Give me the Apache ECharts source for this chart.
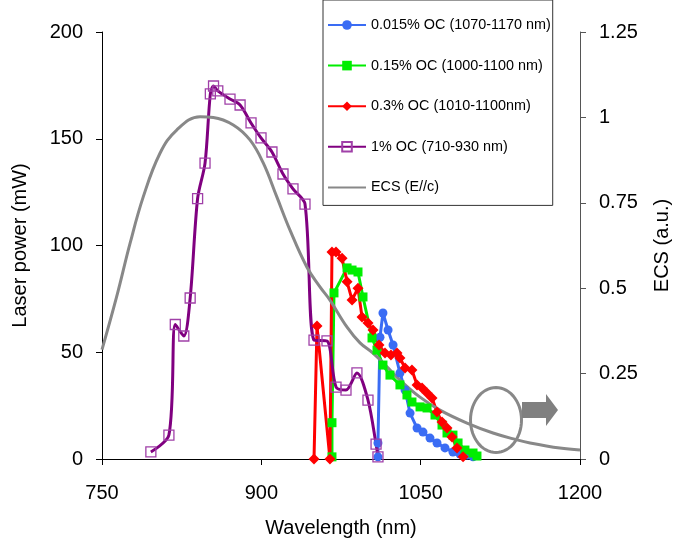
<!DOCTYPE html>
<html>
<head>
<meta charset="utf-8">
<script src="https://cdn.jsdelivr.net/npm/echarts@6/dist/echarts.min.js"></script>
<style>
  html, body { margin: 0; padding: 0; background: #fff; }
  #chart { width: 685px; height: 549px; }
</style>
</head>
<body>
<div id="chart"></div>
<script>
// wavelength (nm) / laser power (mW)
var oc0015_x = [1009.8, 1009.8, 1011.7, 1014.5, 1019.3, 1024, 1030.5, 1035.3, 1040, 1046.6, 1052.2, 1058.8, 1065.4, 1072.9, 1080.4, 1087, 1093.6, 1099.3];
var oc0015_y = [1, 7.5, 57, 68.4, 60.4, 53.4, 40.3, 32.3, 21.5, 14.5, 12.6, 9.8, 7.5, 5.2, 3.3, 2.3, 1.9, 1];

var oc015_x = [966.5, 966.5, 968.4, 980.7, 985.4, 991, 995.7, 1004.2, 1008.9, 1014.5, 1021.1, 1030.5, 1037.1, 1041.8, 1049.4, 1056, 1063.5, 1070.1, 1074.8, 1080.4, 1085.2, 1091.7, 1099.3, 1103];
var oc015_y = [1, 17, 77.8, 89.5, 88.5, 87.6, 75.9, 56.7, 51, 44, 39.3, 34.7, 30, 26.7, 24.4, 23.9, 20.6, 15.9, 12.2, 11.2, 7.5, 4.2, 2.8, 1.4];

var oc03_x = [949.6, 952.4, 964.6, 966.5, 970.3, 976, 980.7, 985.4, 991, 994.8, 1000.4, 1005.1, 1010.8, 1016.4, 1022, 1027.7, 1030.5, 1035.3, 1041.8, 1046.6, 1051.3, 1056, 1060.7, 1065.4, 1070.1, 1074.8, 1079.5, 1084.2, 1089.9];
var oc03_y = [0, 62.3, 0, 97, 97, 94, 83, 74.5, 80, 66.5, 63.7, 60.4, 53.4, 49.6, 48.7, 49.6, 47.3, 42.6, 41.7, 34.7, 33.3, 30.9, 28.6, 22, 17.3, 14.5, 10.3, 5.2, 1];

var oc1_x = [796, 813, 819, 827, 833, 840, 847, 852, 855, 859, 870.5, 880, 890.3, 899.7, 910, 920.4, 929.8, 941.1, 949.6, 961.8, 970.3, 979.7, 990, 1000.4, 1008, 1009.8];
var oc1_y = [3.3, 11.2, 63, 57.6, 75.4, 122, 138.6, 171, 174.7, 172.4, 168.6, 165.8, 157.4, 150.4, 143.8, 133.5, 126.5, 119.4, 55.7, 55.3, 33.7, 32.3, 40.3, 27.6, 7, 1];

// ECS (E//c), right axis
var ecs_x = [750, 763.8, 776.4, 788.9, 804.6, 820.3, 842.3, 854.8, 873.6, 889.3, 901.9, 914.5, 927, 942.7, 955.2, 964.6, 980.7, 992.9, 1005.1, 1018.3, 1030.5, 1049.4, 1068.2, 1093.6, 1118.1, 1140.7, 1153, 1181, 1200];
var ecs_y = [0.32, 0.475, 0.631, 0.768, 0.895, 0.963, 1.002, 1.0, 0.978, 0.934, 0.866, 0.768, 0.67, 0.563, 0.504, 0.465, 0.386, 0.34, 0.31, 0.27, 0.231, 0.181, 0.143, 0.105, 0.076, 0.056, 0.047, 0.032, 0.026];

var seriesNames = ['0.015% OC (1070-1170 nm)', '0.15% OC (1000-1100 nm)', '0.3% OC (1010-1100nm)', '1% OC (710-930 nm)', 'ECS (E//c)'];

function pairs(xs, ys) {
  var out = [];
  for (var i = 0; i < xs.length; i++) {
    out.push([xs[i], ys[i]]);
  }
  return out;
}

// ellipse outline for the annotation
var ellipsePts = [];
for (var k = 0; k <= 60; k++) {
  var a = k / 60 * Math.PI * 2;
  ellipsePts.push([496 + 25.5 * Math.cos(a), 420 + 32.5 * Math.sin(a)]);
}

var font = '"Liberation Sans", Arial, sans-serif';
var plain = function (v) { return String(v); };

var legendData = seriesNames.map(function (n, i) {
  if (i == 4) {
    return { name: n, itemStyle: { opacity: 0 } };
  }
  return { name: n };
});

var option = {
  animation: false,
  backgroundColor: '#fff',
  textStyle: { fontFamily: font, color: '#000' },
  grid: { left: 102, right: 105, top: 32, bottom: 90 },
  legend: {
    orient: 'vertical',
    left: 323,
    top: 0,
    padding: [18, 2, 11, 4],
    itemGap: 26.6,
    itemWidth: 38,
    itemHeight: 12,
    borderColor: '#333',
    borderWidth: 1,
    textStyle: { fontSize: 14.4, color: '#000', fontFamily: font },
    data: legendData
  },
  xAxis: {
    type: 'value',
    min: 750,
    max: 1200,
    interval: 150,
    name: 'Wavelength (nm)',
    nameLocation: 'middle',
    nameGap: 59,
    nameTextStyle: { fontSize: 20, color: '#000' },
    axisLine: { lineStyle: { color: '#000', width: 1 } },
    axisTick: { lineStyle: { color: '#000' }, length: 6 },
    axisLabel: { fontSize: 20, color: '#000', margin: 24, formatter: plain },
    splitLine: { show: false }
  },
  yAxis: [{
    type: 'value',
    min: 0,
    max: 200,
    interval: 50,
    name: 'Laser power (mW)',
    nameLocation: 'middle',
    nameGap: 72,
    nameTextStyle: { fontSize: 20, color: '#000' },
    axisLine: { show: true, lineStyle: { color: '#000', width: 1 } },
    axisTick: { show: true, lineStyle: { color: '#000' }, length: 6 },
    axisLabel: { fontSize: 20, color: '#000', margin: 19, formatter: plain },
    splitLine: { show: false }
  }, {
    type: 'value',
    min: 0,
    max: 1.25,
    interval: 0.25,
    position: 'right',
    name: 'ECS (a.u.)',
    nameLocation: 'middle',
    nameGap: 72,
    nameRotate: 90,
    nameTextStyle: { fontSize: 20, color: '#000' },
    axisLine: { show: true, lineStyle: { color: '#555', width: 1 } },
    axisTick: { show: true, lineStyle: { color: '#555' }, length: 6 },
    axisLabel: { fontSize: 20, color: '#000', margin: 19, formatter: plain },
    splitLine: { show: false }
  }],
  series: [{
    name: seriesNames[0],
    type: 'line',
    data: pairs(oc0015_x, oc0015_y),
    symbol: 'circle',
    symbolSize: 9,
    lineStyle: { color: '#3a6cf4', width: 3 },
    itemStyle: { color: '#3a6cf4' }
  }, {
    name: seriesNames[1],
    type: 'line',
    data: pairs(oc015_x, oc015_y),
    symbol: 'rect',
    symbolSize: 9,
    lineStyle: { color: '#00ee00', width: 3 },
    itemStyle: { color: '#00ee00' }
  }, {
    name: seriesNames[2],
    type: 'line',
    data: pairs(oc03_x, oc03_y),
    symbol: 'diamond',
    symbolSize: 11,
    lineStyle: { color: '#ff0000', width: 3 },
    itemStyle: { color: '#ff0000' }
  }, {
    name: seriesNames[3],
    type: 'line',
    data: pairs(oc1_x, oc1_y),
    smooth: 0.3,
    symbol: 'rect',
    symbolSize: 10,
    lineStyle: { color: '#800080', width: 3 },
    itemStyle: { color: 'rgba(255,255,255,0)', borderColor: '#a040a8', borderWidth: 1.3 }
  }, {
    name: seriesNames[4],
    type: 'line',
    yAxisIndex: 1,
    data: pairs(ecs_x, ecs_y),
    smooth: 0.4,
    showSymbol: false,
    lineStyle: { color: '#888888', width: 3 },
    itemStyle: { color: '#888888' }
  }],
  graphic: [{
    type: 'polyline',
    shape: { points: ellipsePts },
    style: { stroke: '#888888', lineWidth: 3, fill: null }
  }, {
    type: 'polygon',
    shape: { points: [[522, 402], [546, 402], [546, 394], [558, 410], [546, 426], [546, 418], [522, 418]] },
    style: { fill: '#808080' }
  }]
};

var chart = echarts.init(document.getElementById('chart'));
chart.setOption(option);
</script>
</body>
</html>
